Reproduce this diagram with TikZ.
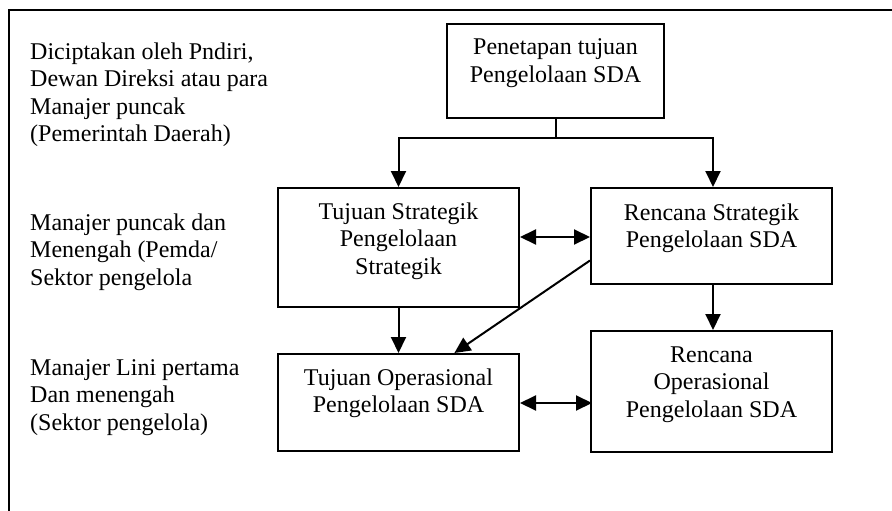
\documentclass[tikz,border=0pt]{standalone}
\usepackage{fontspec}
\setmainfont{Liberation Serif}
\usetikzlibrary{arrows.meta,calc}

% a multi-line node's base anchor sits on its last line, so each
% text node is placed on the baseline of its last line
\tikzset{
  box/.style={draw, line width=2pt, anchor=north west, inner sep=0pt},
  lbl/.style={anchor=base, align=center, inner sep=0pt, font=\fontsize{24}{27.6}\selectfont},
  side/.style={anchor=base west, align=left, inner sep=0pt, font=\fontsize{24}{27.6}\selectfont},
  link/.style={line width=2pt},
  arr/.style={link, -{Triangle[length=16pt,width=15pt]}},
  biarr/.style={link, {Triangle[length=16pt,width=15pt]}-{Triangle[length=16pt,width=15pt]}}
}

\begin{document}
\begin{tikzpicture}[x=1pt, y=-1pt]
\useasboundingbox (0,0) rectangle (892,511);

% frame (top and left edges)
\draw[link] (9,511) -- (9,10) -- (892,10);

% level captions
\node[side] (c1) at (30,141.8) {Diciptakan oleh Pndiri,\\Dewan Direksi atau para\\Manajer puncak\\(Pemerintah Daerah)};
\node[side] (c2) at (30,285.2) {Manajer puncak dan\\Menengah (Pemda/\\Sektor pengelola};
\node[side] (c3) at (30,430.2) {Manajer Lini pertama\\Dan menengah\\(Sektor pengelola)};

% boxes
\node[box, minimum width=217pt, minimum height=94pt] (top) at (446,23) {};
\node[box, minimum width=241pt, minimum height=119pt] (ts) at (277,187) {};
\node[box, minimum width=241pt, minimum height=96pt] (rs) at (590,187) {};
\node[box, minimum width=241pt, minimum height=97pt] (to) at (277,353) {};
\node[box, minimum width=241pt, minimum height=121pt] (ro) at (590,330) {};

% box texts
\node[lbl] (ttop) at ($(top.north)+(0,59.6)$) {Penetapan tujuan\\Pengelolaan SDA};
\node[lbl] (tts) at ($(ts.north)+(0,87.2)$) {Tujuan Strategik\\Pengelolaan\\Strategik};
\node[lbl] (trs) at ($(rs.north)+(0,60.6)$) {Rencana Strategik\\Pengelolaan SDA};
\node[lbl] (tto) at ($(to.north)+(0,59.6)$) {Tujuan Operasional\\Pengelolaan SDA};
\node[lbl] (tro) at ($(ro.north)+(0,87.2)$) {Rencana\\Operasional\\Pengelolaan SDA};

% connectors
\coordinate (fork) at (top.south |- 0,138);
\draw[link] (top.south) -- (fork);
\draw[arr] (fork) -| (ts.north);
\draw[arr] (fork) -| ($(rs.north)+(1.5,0)$);
\draw[arr] (ts.south) -- (to.north);
\draw[arr] ($(rs.south)+(1.5,0)$) -- ($(ro.north)+(1.5,0)$);
\draw[biarr] ($(ts.north east)+(0,50)$) -- ($(rs.north west)+(0,50)$);
\draw[biarr] ($(to.north east)+(0,50)$) -- ($(to.north east)+(72,50)$);
\draw[arr] ($(rs.south west)!0.25!(rs.north west)$) -- ($(to.north west)!0.73!(to.north east)$);
\end{tikzpicture}
\end{document}
